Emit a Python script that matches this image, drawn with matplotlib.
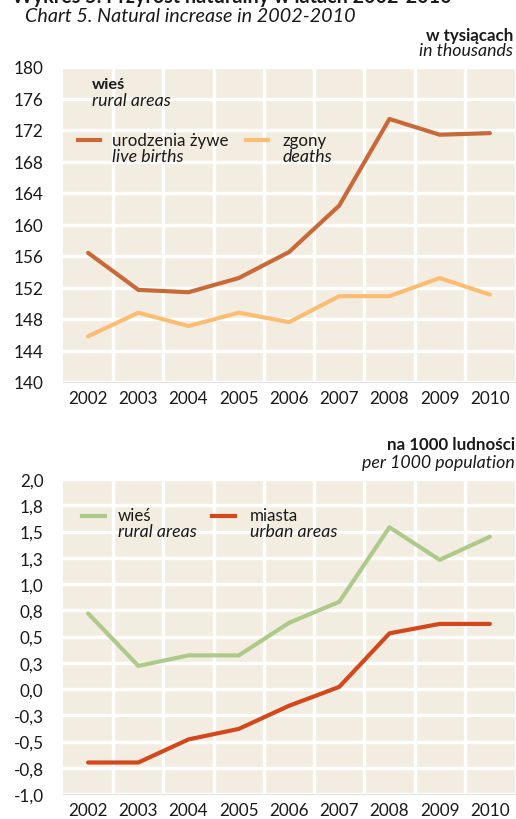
import matplotlib
matplotlib.use('Agg')
import matplotlib.pyplot as plt
from matplotlib.ticker import FixedLocator

plt.rcParams['font.family'] = ['Lato', 'DejaVu Sans']

# data
years = [2002, 2003, 2004, 2005, 2006, 2007, 2008, 2009, 2010]

# chart 5a: rural areas, in thousands
live_births = [156.4, 151.7, 151.4, 153.2, 156.5, 162.4, 173.4, 171.4, 171.6]
deaths = [145.8, 148.8, 147.1, 148.8, 147.6, 150.9, 150.9, 153.2, 151.1]
top_ticks = [140, 144, 148, 152, 156, 160, 164, 168, 172, 176, 180]

# chart 5b: natural increase per 1000 population
rural_rate = [0.72, 0.22, 0.32, 0.32, 0.63, 0.83, 1.54, 1.23, 1.45]
urban_rate = [-0.70, -0.70, -0.48, -0.38, -0.16, 0.02, 0.53, 0.62, 0.62]
bottom_ticks = [-1.0, -0.75, -0.5, -0.25, 0.0, 0.25, 0.5, 0.75, 1.0, 1.25, 1.5, 1.75, 2.0]
bottom_labels = ['-1,0', '-0,8', '-0,5', '-0,3', '0,0', '0,3', '0,5', '0,8',
                 '1,0', '1,3', '1,5', '1,8', '2,0']

BG = '#F3EDE1'
C_BIRTHS = '#C8693A'
C_DEATHS = '#FBBD74'
C_RURAL = '#AECA8A'
C_URBAN = '#D2481C'

W, H = 516, 820
fig = plt.figure(figsize=(W / 100, H / 100), dpi=100)


def px_axes(left, top, right, bottom):
    return fig.add_axes([left / W, 1 - bottom / H, (right - left) / W, (bottom - top) / H])


def style_axes(ax, ticks, labels=None):
    ax.set_facecolor(BG)
    ax.set_xlim(years[0] - 0.5, years[-1] + 0.5)
    ax.set_ylim(ticks[0], ticks[-1])
    ax.set_yticks(ticks)
    if labels is not None:
        ax.set_yticklabels(labels)
    ax.set_xticks(years)
    ax.xaxis.set_minor_locator(FixedLocator([y + 0.5 for y in years[:-1]]))
    ax.grid(True, axis='y', which='major', color='white', lw=2.4)
    ax.grid(True, axis='x', which='minor', color='white', lw=2.4)
    ax.grid(False, axis='x', which='major')
    ax.set_axisbelow(True)
    for s in ['top', 'left', 'right']:
        ax.spines[s].set_visible(False)
    ax.spines['bottom'].set_color('#E2E2E2')
    ax.spines['bottom'].set_linewidth(0.8)
    ax.tick_params(axis='both', which='both', length=0, labelsize=12.3, colors='#1a1a1a')
    ax.tick_params(axis='y', pad=14)
    ax.tick_params(axis='x', pad=5.5)


def text(x, y, s, size, **kw):
    fig.text(x / W, 1 - y / H, s, fontsize=size, color='#1a1a1a', **kw)


def legend_line(x0, x1, y, color):
    fig.add_artist(plt.Line2D([x0 / W, x1 / W], [1 - y / H] * 2, color=color, lw=3))


# titles
text(12, 3, 'Wykres 5. Przyrost naturalny w latach 2002-2010', 14.2,
     fontweight='bold', va='baseline', ha='left')
text(25, 17, 'Chart 5. Natural increase in 2002-2010', 14.2,
     style='italic', va='center', ha='left')

# top chart
ax1 = px_axes(63, 68, 515, 383)
style_axes(ax1, top_ticks)
ax1.plot(years, live_births, color=C_BIRTHS, lw=3, solid_capstyle='round')
ax1.plot(years, deaths, color=C_DEATHS, lw=3, solid_capstyle='round')

text(513, 36, 'w tysiącach', 12.2, fontweight='bold', ha='right', va='center')
text(513, 51, 'in thousands', 12.8, style='italic', ha='right', va='center')

text(92, 85, 'wieś', 11.8, fontweight='bold', va='center')
text(92, 101, 'rural areas', 12.8, style='italic', va='center')
legend_line(78, 100, 141, C_BIRTHS)
text(112, 141, 'urodzenia żywe', 12.2, va='center')
text(112, 157, 'live births', 12.8, style='italic', va='center')
legend_line(246, 268, 141, C_DEATHS)
text(283, 141, 'zgony', 12.2, va='center')
text(283, 157, 'deaths', 12.8, style='italic', va='center')

# bottom chart
ax2 = px_axes(63, 480, 515, 795)
style_axes(ax2, bottom_ticks, bottom_labels)
ax2.plot(years, rural_rate, color=C_RURAL, lw=3, solid_capstyle='round')
ax2.plot(years, urban_rate, color=C_URBAN, lw=3, solid_capstyle='round')

text(515, 445, 'na 1000 ludności', 12.2, fontweight='bold', ha='right', va='center')
text(515, 463, 'per 1000 population', 12.8, style='italic', ha='right', va='center')

legend_line(82, 105, 517, C_RURAL)
text(118, 516, 'wieś', 12.2, va='center')
text(118, 532, 'rural areas', 12.8, style='italic', va='center')
legend_line(212, 235, 517, C_URBAN)
text(250, 516, 'miasta', 12.2, va='center')
text(250, 532, 'urban areas', 12.8, style='italic', va='center')

fig.savefig('out.png', dpi=100)
